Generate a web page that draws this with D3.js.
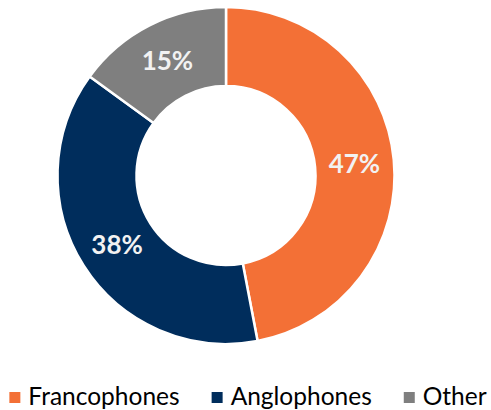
<!DOCTYPE html>
<html>
<head>
<meta charset="utf-8">
<script src="https://cdn.jsdelivr.net/npm/d3@7"></script>
<style>
  body { margin: 0; background: #fff; }
  svg { display: block; }
</style>
</head>
<body>
<svg width="491" height="410"></svg>
<script>
// data
var categories = ["Francophones", "Anglophones", "Other"];
var values = [47, 38, 15];
var colors = ["#F37036", "#002D5C", "#7F7F7F"];

var svg = d3.select("svg"),
    cx = 226, cy = 175.5,
    outerR = 168.5, innerR = 89.5;

var data = categories.map(function(c, i) { return {name: c, value: values[i]}; });

var pie = d3.pie().sort(null).value(function(d) { return d.value; });
var arc = d3.arc().innerRadius(innerR).outerRadius(outerR);

var g = svg.append("g").attr("transform", "translate(" + cx + "," + cy + ")");

var slices = g.selectAll(".slice")
  .data(pie(data))
  .enter().append("g").attr("class", "slice");

slices.append("path")
  .attr("d", arc)
  .attr("fill", function(d, i) { return colors[i]; })
  .attr("stroke", "#fff")
  .attr("stroke-width", 2.5);

// procent labels in het midden van de ring
slices.append("text")
  .attr("transform", function(d) { return "translate(" + arc.centroid(d) + ")"; })
  .attr("text-anchor", "middle")
  .attr("dy", "0.36em")
  .style("font-family", "Lato, sans-serif")
  .style("font-weight", "bold")
  .style("font-size", "26px")
  .style("fill", "#F2F2F2")
  .text(function(d) { return d.data.value + "%"; });

// legenda onderaan
var legend = svg.append("g").attr("class", "legend");
var x = 0;
var items = legend.selectAll(".item")
  .data(data)
  .enter().append("g").attr("class", "item");

items.append("rect")
  .attr("width", 11).attr("height", 11)
  .attr("y", -13)
  .attr("fill", function(d, i) { return colors[i]; });

items.append("text")
  .attr("x", 19)
  .attr("y", 0)
  .style("font-family", "Lato, sans-serif")
  .style("font-size", "24.5px")
  .style("fill", "#000")
  .text(function(d) { return d.name; });

items.each(function() {
  var w = d3.select(this).select("text").node().getComputedTextLength();
  d3.select(this).attr("transform", "translate(" + x + ",0)");
  x += 19 + w + 32;
});
var total = x - 32;
legend.attr("transform", "translate(" + (248 - total / 2) + ",405)");
</script>
</body>
</html>
